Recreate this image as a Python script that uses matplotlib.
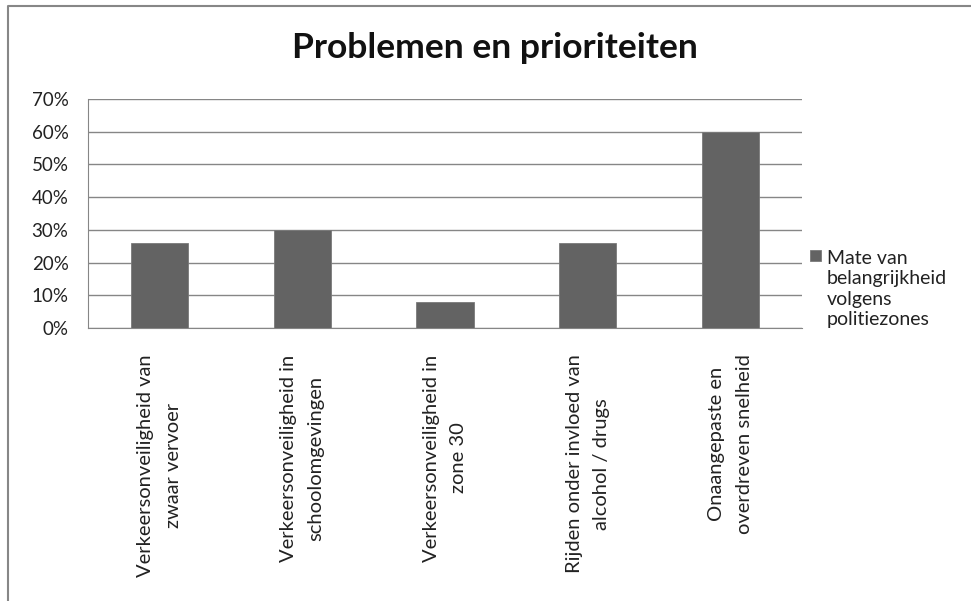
import matplotlib
matplotlib.use("Agg")
import matplotlib.pyplot as plt
from matplotlib.lines import Line2D
from matplotlib.patches import Rectangle
from matplotlib.container import BarContainer
from matplotlib.legend_handler import HandlerPatch
from matplotlib.ticker import PercentFormatter

categories = [
    "Verkeersonveiligheid van\nzwaar vervoer",
    "Verkeersonveiligheid in\nschoolomgevingen",
    "Verkeersonveiligheid in\nzone 30",
    "Rijden onder invloed van\nalcohol / drugs",
    "Onaangepaste en\noverdreven snelheid",
]
values = [26, 30, 8, 26, 60]
series_name = "Mate van\nbelangrijkheid\nvolgens\npolitiezones"
yticks = [0, 10, 20, 30, 40, 50, 60, 70]

plt.rcParams["font.family"] = ["Lato", "DejaVu Sans"]

W, H = 971, 601
fig = plt.figure(figsize=(W / 100, H / 100), dpi=100)

# chart frame (left and top edge visible)
fig.add_artist(Line2D([8 / W, 8 / W, 1], [0, 1 - 6 / H, 1 - 6 / H],
                      transform=fig.transFigure, color="#878787", lw=1.5))

ax = fig.add_axes([88 / W, 1 - 328 / H, (802 - 88) / W, (328 - 99) / H])
x = range(len(values))
ax.bar(x, values, width=0.4, color="#636363", edgecolor="#7a7a7a",
       linewidth=0.6, label=series_name, zorder=3)

ax.set_xlim(-0.5, len(values) - 0.5)
ax.set_ylim(0, 70)
ax.set_yticks(yticks)
ax.yaxis.set_major_formatter(PercentFormatter(decimals=0))
ax.grid(axis="y", color="#868686", lw=1)
ax.set_axisbelow(True)
for s in ["top", "right"]:
    ax.spines[s].set_visible(False)
for s in ["left", "bottom"]:
    ax.spines[s].set_color("#868686")

ax.tick_params(axis="y", length=0, pad=14, labelsize=13.5, labelcolor="#222222")
ax.set_xticks(list(x))
ax.set_xticklabels(categories, rotation=90, ha="center", va="top",
                   multialignment="center", linespacing=1.75, fontsize=14.5,
                   color="#222222")
ax.tick_params(axis="x", length=0, pad=19)

fig.text(495 / W, 1 - 48 / H, "Problemen en prioriteiten", ha="center",
         va="center", fontsize=25.5, fontweight="bold", color="#111111")


# square marker next to the first line of the legend text
def top_square(legend, orig_handle, xdescent, ydescent, width, height, fontsize):
    s = 0.6 * fontsize
    return Rectangle((-xdescent, height - ydescent - s + 0.62 * fontsize), s, s)


def first_bar(handle, orig):
    handle.update_from(orig.patches[0])


ax.legend(loc="upper left", bbox_to_anchor=(796 / W, 1 - 236 / H),
          bbox_transform=fig.transFigure, frameon=False,
          handlelength=0.6, handleheight=4.2, handletextpad=0.3,
          borderaxespad=0.4, borderpad=0.3,
          labelspacing=0, labelcolor="#222222",
          handler_map={BarContainer: HandlerPatch(patch_func=top_square,
                                                  update_func=first_bar)},
          prop={"size": 14})
leg = ax.get_legend()
for t in leg.get_texts():
    t.set_linespacing(1.25)

fig.savefig("out.png", dpi=100)
